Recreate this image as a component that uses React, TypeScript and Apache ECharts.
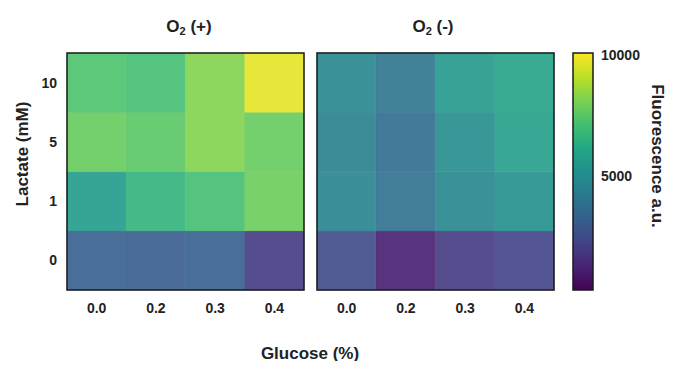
import React, { useEffect, useRef } from "react";
import * as echarts from "echarts";

const glucose = ["0.0", "0.2", "0.3", "0.4"];
const lactate = ["0", "1", "5", "10"];
// rows in order of lactate (0, 1, 5, 10), columns in order of glucose
const o2Plus = [
  [3200, 3100, 3200, 1950],
  [5600, 6600, 7100, 7850],
  [7750, 7550, 8250, 7750],
  [7300, 7100, 8250, 9700],
];
const o2Minus = [
  [2450, 1100, 1950, 2250],
  [4650, 3850, 4700, 5100],
  [4500, 3750, 5000, 5700],
  [4750, 4050, 5500, 5900],
];
const colorMin = 280;
const colorMax = 10100;
const colorbarTicks = [5000, 10000];

const viridis = [
  "#440154", "#482475", "#414487", "#355f8d", "#2a788e",
  "#21918c", "#22a884", "#44bf70", "#7ad151", "#bddf26", "#fde725",
];

const FONT = "Liberation Sans, Arial, sans-serif";

function toCells(m: number[][]) {
  const out: number[][] = [];
  m.forEach((row, yi) => row.forEach((v, xi) => out.push([xi, yi, v])));
  return out;
}

export default function App() {
  const ref = useRef<HTMLDivElement>(null);
  useEffect(() => {
    const chart = echarts.init(ref.current!, null, { renderer: "svg" });
    const grids = [
      { left: 67, top: 53, width: 237, height: 237 },
      { left: 317, top: 53, width: 237, height: 237 },
      { left: 573, top: 53, width: 20, height: 237 },
    ];
    const catX = (gi: number) => ({
      type: "category",
      gridIndex: gi,
      data: glucose,
      axisLine: { show: false },
      axisTick: { show: false },
      axisLabel: { fontFamily: FONT, fontWeight: "bold", fontSize: 14, color: "#222", margin: 11 },
      splitArea: { show: false },
    });
    const catY = (gi: number, showLabels: boolean) => ({
      type: "category",
      gridIndex: gi,
      data: lactate,
      axisLine: { show: false },
      axisTick: { show: false },
      axisLabel: { show: showLabels, fontFamily: FONT, fontWeight: "bold", fontSize: 14, color: "#222", margin: 10 },
    });
    const titleRich = {
      t: { fontFamily: FONT, fontWeight: "bold", fontSize: 17, color: "#222" },
      s: { fontFamily: FONT, fontWeight: "bold", fontSize: 11, color: "#222", padding: [9, 0, 0, 0] },
    };
    const textStyle = (text: string) => ({
      text,
      font: "bold 17px " + FONT,
      fill: "#222",
      align: "center",
      verticalAlign: "middle",
    });
    chart.setOption({
      animation: false,
      backgroundColor: "#fff",
      title: [
        { text: "{t|O}{s|2}{t| (+)}", left: 184, top: 11, textAlign: "center", textStyle: { rich: titleRich } },
        { text: "{t|O}{s|2}{t| (-)}", left: 428, top: 11, textAlign: "center", textStyle: { rich: titleRich } },
      ],
      grid: grids.map((g) => ({
        ...g,
        show: true,
        z: 10,
        outerBoundsMode: "none",
        containLabel: false,
        backgroundColor: "transparent",
        borderColor: "#1a1a1a",
        borderWidth: 1.5,
      })),
      xAxis: [
        catX(0),
        catX(1),
        { type: "category", gridIndex: 2, data: [""], show: false },
      ],
      yAxis: [
        catY(0, true),
        catY(1, false),
        {
          type: "value",
          gridIndex: 2,
          min: colorMin,
          max: colorMax,
          position: "right",
          splitLine: { show: false },
          axisLine: { show: false },
          axisTick: { show: true, inside: true, length: 3, customValues: [5000], lineStyle: { color: "#222", width: 1.5 } },
          axisLabel: {
            customValues: colorbarTicks,
            formatter: (v: number) => String(v),
            fontFamily: FONT,
            fontWeight: "bold",
            fontSize: 14,
            color: "#222",
            margin: 8,
          },
        },
        {
          type: "value",
          gridIndex: 2,
          min: colorMin,
          max: colorMax,
          position: "left",
          splitLine: { show: false },
          axisLine: { show: false },
          axisLabel: { show: false },
          axisTick: { show: true, inside: true, length: 3, customValues: [5000], lineStyle: { color: "#222", width: 1.5 } },
        },
      ],
      visualMap: {
        show: false,
        min: colorMin,
        max: colorMax,
        seriesIndex: [0, 1],
        inRange: { color: viridis },
      },
      graphic: [
        {
          type: "rect",
          x: 573,
          y: 53,
          shape: { width: 20, height: 237 },
          z: 1,
          style: {
            fill: new echarts.graphic.LinearGradient(
              0, 1, 0, 0,
              viridis.map((c, i) => ({ offset: i / (viridis.length - 1), color: c }))
            ),
          },
        },
        { type: "text", x: 22, y: 154, rotation: Math.PI / 2, style: textStyle("Lactate (mM)") },
        { type: "text", x: 657, y: 156, rotation: -Math.PI / 2, style: textStyle("Fluorescence a.u.") },
        { type: "text", x: 310, y: 353, style: textStyle("Glucose (%)") },
      ],
      series: [
        {
          type: "heatmap",
          xAxisIndex: 0,
          yAxisIndex: 0,
          data: toCells(o2Plus),
          itemStyle: { borderWidth: 0.5, borderColor: "rgba(255,255,255,0.12)", opacity: 0.9 },
        },
        {
          type: "heatmap",
          xAxisIndex: 1,
          yAxisIndex: 1,
          data: toCells(o2Minus),
          itemStyle: { borderWidth: 0.5, borderColor: "rgba(255,255,255,0.12)", opacity: 0.9 },
        },
      ],
    });
    return () => chart.dispose();
  }, []);
  return <div ref={ref} style={{ width: 681, height: 369, margin: -8 }} />;
}
